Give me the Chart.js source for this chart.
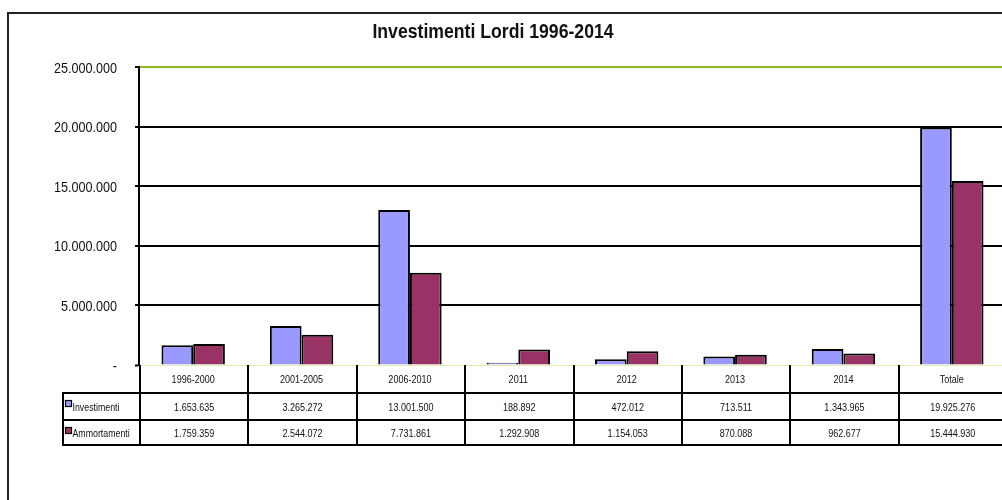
<!DOCTYPE html>
<html><head><meta charset="utf-8">
<script src="https://cdn.jsdelivr.net/npm/chart.js@4.4.0/dist/chart.umd.min.js"></script>
<style>
html,body{margin:0;padding:0;background:#fff;overflow:hidden;width:1002px;height:500px;}
#frame{position:absolute;left:7px;top:12px;width:1100px;height:600px;border:2px solid #222;box-sizing:border-box;}
#wrap{position:absolute;left:0;top:0;width:1010px;height:500px;}
</style></head><body>
<div id="frame"></div>
<div id="wrap"><canvas id="c" width="1010" height="500"></canvas></div>
<script>
const TITLE = 'Investimenti Lordi 1996-2014';
const categories = ['1996-2000','2001-2005','2006-2010','2011','2012','2013','2014','Totale'];
const investimenti = [1653635, 3265272, 13001500, 188892, 472012, 713511, 1343965, 19925276];
const ammortamenti = [1759359, 2544072, 7731861, 1292908, 1154053, 870088, 962677, 15444930];
const seriesNames = ['Investimenti', 'Ammortamenti'];
const seriesColors = ['#9999FF', '#993366'];
const yMin = 0, yMax = 25000000, yStep = 5000000;

const FONT = "'Liberation Sans', Arial, sans-serif";

function fmt(v){ return String(Math.round(v)).replace(/\B(?=(\d{3})+(?!\d))/g, '.'); }

// draw condensed (narrow-style) text
function narrowText(ctx, text, x, y, font, align, sx){
  ctx.save();
  ctx.translate(x, y);
  ctx.scale(sx, 1);
  ctx.font = font;
  ctx.textAlign = align;
  ctx.textBaseline = 'middle';
  ctx.fillStyle = '#111';
  ctx.fillText(text, 0, 0);
  ctx.restore();
}

const labelsPlugin = {
  id: 'narrowLabels',
  afterDraw(chart){
    const ctx = chart.ctx, a = chart.chartArea, x = chart.scales.x, y = chart.scales.y;
    // title
    narrowText(ctx, TITLE, 493, 32, 'bold 21px ' + FONT, 'center', 0.84);
    // y tick labels
    y.ticks.forEach(t => {
      const py = y.getPixelForValue(t.value);
      narrowText(ctx, t.value === 0 ? '-' : fmt(t.value), 117, py + 1.5, '15px ' + FONT, 'right', 0.84);
    });
    // category labels (header row of table)
    categories.forEach((c, i) => {
      narrowText(ctx, c, x.getPixelForValue(i), a.bottom + 14.5, '11px ' + FONT, 'center', 0.82);
    });
  }
};

const tablePlugin = {
  id: 'dataTable',
  afterDraw(chart){
    const ctx = chart.ctx, a = chart.chartArea, x = chart.scales.x;
    const n = categories.length;
    const w = (a.right - a.left) / n;
    const top = a.bottom, r1 = top + 28, r2 = top + 55, r3 = top + 80;
    const labelLeft = 63;
    ctx.save();
    ctx.strokeStyle = '#000';
    ctx.lineWidth = 2;
    ctx.beginPath();
    for (let i = 0; i <= n; i++) {
      const xx = Math.round(x.getPixelForValue(0) - w / 2 + i * w) + 1;
      ctx.moveTo(xx, top); ctx.lineTo(xx, r3);
    }
    ctx.moveTo(labelLeft, r1); ctx.lineTo(labelLeft, r3);
    [r1, r2, r3].forEach(yy => { ctx.moveTo(labelLeft - 1, yy); ctx.lineTo(a.right + 2, yy); });
    ctx.stroke();

    const rows = [investimenti, ammortamenti];
    const centers = [(r1 + r2) / 2, (r2 + r3) / 2];
    rows.forEach((vals, ri) => {
      vals.forEach((v, i) => narrowText(ctx, fmt(v), x.getPixelForValue(i) + 1, centers[ri] + 1, '11px ' + FONT, 'center', 0.82));
      const rt = ri === 0 ? r1 : r2;
      ctx.fillStyle = seriesColors[ri];
      ctx.fillRect(66, rt + 8, 5, 5);
      ctx.lineWidth = 1.2;
      ctx.strokeStyle = '#000';
      ctx.strokeRect(65.5, rt + 7.5, 6, 6);
      narrowText(ctx, seriesNames[ri], 72.5, centers[ri] + 1, '11px ' + FONT, 'left', 0.8);
    });
    ctx.restore();
  }
};

new Chart(document.getElementById('c'), {
  type: 'bar',
  data: {
    labels: categories,
    datasets: [
      { label: seriesNames[0], data: investimenti, backgroundColor: seriesColors[0], borderColor: '#000', borderWidth: 2 },
      { label: seriesNames[1], data: ammortamenti, backgroundColor: seriesColors[1], borderColor: '#000', borderWidth: 2 }
    ]
  },
  options: {
    responsive: false,
    animation: false,
    devicePixelRatio: 1,
    layout: { padding: { top: 67, left: 0, right: 4, bottom: 0 } },
    datasets: { bar: { categoryPercentage: 0.585, barPercentage: 1.0 } },
    plugins: { legend: { display: false }, title: { display: false }, tooltip: { enabled: false } },
    scales: {
      x: {
        grid: { display: false },
        border: { display: false },
        ticks: { display: false },
        afterFit(s){ s.height = 135; }
      },
      y: {
        min: yMin, max: yMax,
        ticks: { stepSize: yStep, display: false },
        grid: {
          color: c => c.tick && c.tick.value === yMax ? '#8fb826' : (c.tick && c.tick.value === 0 ? '#e2eeb0' : '#000'),
          lineWidth: c => c.tick && c.tick.value === 0 ? 1 : 2,
          tickColor: '#000', tickLength: 4, tickWidth: 2, drawTicks: true
        },
        border: { color: '#000', width: 2 },
        afterFit(s){ s.width = 139; }
      }
    }
  },
  plugins: [tablePlugin, labelsPlugin]
});
</script>
</body></html>
